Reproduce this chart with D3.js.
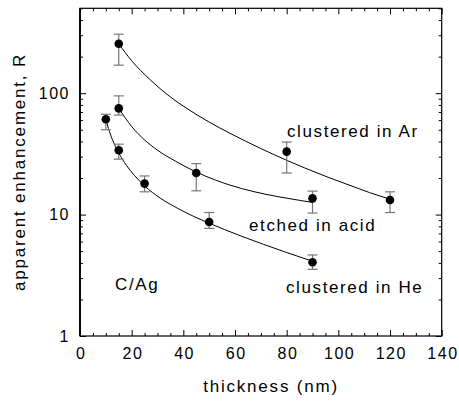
<!DOCTYPE html>
<html><head><meta charset="utf-8">
<script src="https://cdn.jsdelivr.net/npm/d3@7"></script>
<style>
body{margin:0;background:#fff;}
text{font-family:"Liberation Sans",Arial,sans-serif;fill:#000;}
</style></head>
<body><svg id="c" width="459" height="403"></svg>
<script>
// ---- data ----
const arX = [15, 80, 120];
const arY = [255, 33, 13.2];
const arLo = [170, 22, 10.4];
const arHi = [306, 39.6, 15.4];

const acidX = [15, 45, 90];
const acidY = [75, 22, 13.6];
const acidLo = [66, 15.7, 10.3];
const acidHi = [95, 26.3, 15.6];

const heX = [10, 15, 25, 50, 90];
const heY = [61, 33.9, 18, 8.7, 4.05];
const heLo = [50, 28.6, 15.4, 7.7, 3.54];
const heHi = [67, 38, 20.8, 10.4, 4.65];

// fitted curves
const arFitX = [15, 20, 27, 35, 41, 50, 58, 70, 80, 87, 96, 104.5, 112, 120];
const arFitY = [255, 185, 130, 93, 75.7, 57.8, 46.8, 35, 28, 24.2, 20.3, 17.4, 15.2, 13.4];
const acidFitX = [15, 20, 25, 30, 37, 45, 52, 58, 67, 77, 85, 90];
const acidFitY = [75, 53.1, 41.2, 33.9, 27.5, 22.4, 19.4, 17.5, 15.5, 14.0, 13.1, 12.6];
const heFitX = [10, 11, 12.5, 15, 18, 21, 25, 31, 38, 44, 50, 56, 62, 71, 80, 90];
const heFitY = [61, 51.3, 41.7, 32.2, 25.4, 21.1, 17.2, 13.7, 11.2, 9.66, 8.5, 7.52, 6.7, 5.69, 4.87, 4.13];

const xTicks = [0, 20, 40, 60, 80, 100, 120, 140];
const yTicks = [1, 10, 100];
const labels = [
  {t: "clustered in Ar", x: 287, y: 137},
  {t: "etched in acid", x: 249, y: 231},
  {t: "clustered in He", x: 286, y: 293},
  {t: "C/Ag", x: 115, y: 290}
];

// ---- chart ----
const L = 80, R = 441.7, T = 8.3, B = 336;
const svg = d3.select("#c");
const x = d3.scaleLinear().domain([0, 140]).range([L, R]);
const y = d3.scaleLog().domain([1, 500]).range([B, T]);

const minorX = d3.range(0, 141, 5).filter(v => v % 20 !== 0);
const minorY = [];
[1, 10, 100].forEach(d => { for (let k = 2; k <= 9; k++) if (d * k <= 500) minorY.push(d * k); });

const g = svg.append("g");
// frame
g.append("rect").attr("x", L).attr("y", T).attr("width", R - L).attr("height", B - T)
  .attr("fill", "none").attr("stroke", "#000").attr("stroke-width", 1.2);
g.append("line").attr("x1", L).attr("x2", L).attr("y1", T).attr("y2", B)
  .attr("stroke", "#000").attr("stroke-width", 1.8);

// axes with inward ticks
const axB = d3.axisBottom(x).tickValues(xTicks).tickSize(-6).tickFormat(d3.format("d")).tickPadding(12);
const axBm = d3.axisBottom(x).tickValues(minorX).tickSize(-3).tickFormat("");
const axT = d3.axisTop(x).tickValues(xTicks).tickSize(-6).tickFormat("");
const axTm = d3.axisTop(x).tickValues(minorX).tickSize(-3).tickFormat("");
const axL = d3.axisLeft(y).tickValues(yTicks).tickSize(-6).tickFormat(d3.format("d")).tickPadding(10);
const axLm = d3.axisLeft(y).tickValues(minorY).tickSize(-3).tickFormat("");
const axR = d3.axisRight(y).tickValues(yTicks).tickSize(-6).tickFormat("");
const axRm = d3.axisRight(y).tickValues(minorY).tickSize(-3).tickFormat("");

function put(ax, tr) {
  const a = g.append("g").attr("transform", tr).call(ax);
  a.select(".domain").remove();
  a.selectAll("line").attr("stroke", "#000").attr("stroke-width", 1);
  a.selectAll("text").attr("font-size", 16).attr("letter-spacing", 1.5)
    .attr("font-family", "'Liberation Sans',Arial,sans-serif").attr("fill", "#000");
  return a;
}
put(axB, `translate(0,${B})`).selectAll("text").attr("dx", "0.75");
put(axBm, `translate(0,${B})`);
put(axT, `translate(0,${T})`);
put(axTm, `translate(0,${T})`);
put(axL, `translate(${L},0)`);
put(axLm, `translate(${L},0)`);
put(axR, `translate(${R},0)`);
put(axRm, `translate(${R},0)`);

// axis titles
g.append("text").attr("x", 271).attr("y", 392).attr("text-anchor", "middle")
  .attr("font-size", 17).attr("letter-spacing", 1.8).text("thickness (nm)");
g.append("text").attr("transform", `translate(24.5,172) rotate(-90)`).attr("text-anchor", "middle")
  .attr("font-size", 17).attr("letter-spacing", 1.8).text("apparent enhancement,  R");

// fit lines
const line = d3.line().x(d => x(d[0])).y(d => y(d[1])).curve(d3.curveMonotoneX);
[[arFitX, arFitY], [acidFitX, acidFitY], [heFitX, heFitY]].forEach(([xs, ys]) => {
  g.append("path").datum(xs.map((v, i) => [v, ys[i]])).attr("d", line)
    .attr("fill", "none").attr("stroke", "#000").attr("stroke-width", 1);
});

// error bars and points
[[arX, arY, arLo, arHi], [acidX, acidY, acidLo, acidHi], [heX, heY, heLo, heHi]].forEach(([xs, ys, lo, hi]) => {
  const data = xs.map((v, i) => ({x: v, y: ys[i], lo: lo[i], hi: hi[i]}));
  const eb = g.append("g").attr("stroke", "#777").attr("stroke-width", 1.2);
  eb.selectAll(".v").data(data).join("line")
    .attr("x1", d => x(d.x)).attr("x2", d => x(d.x)).attr("y1", d => y(d.lo)).attr("y2", d => y(d.hi));
  eb.selectAll(".t").data(data).join("line")
    .attr("x1", d => x(d.x) - 5).attr("x2", d => x(d.x) + 5).attr("y1", d => y(d.hi)).attr("y2", d => y(d.hi));
  eb.selectAll(".b").data(data).join("line")
    .attr("x1", d => x(d.x) - 5).attr("x2", d => x(d.x) + 5).attr("y1", d => y(d.lo)).attr("y2", d => y(d.lo));
  g.append("g").selectAll("circle").data(data).join("circle")
    .attr("cx", d => x(d.x)).attr("cy", d => y(d.y)).attr("r", 4.3).attr("fill", "#000");
});

// in-plot labels
labels.forEach(l => {
  g.append("text").attr("x", l.x).attr("y", l.y).attr("font-size", 17).attr("letter-spacing", 1.6).text(l.t);
});
</script></body></html>
